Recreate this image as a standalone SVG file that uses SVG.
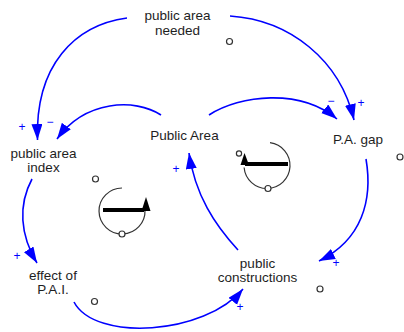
<svg xmlns="http://www.w3.org/2000/svg" width="404" height="332" viewBox="0 0 404 332">
<style>
.lbl{font-family:"Liberation Sans",Arial,sans-serif;font-size:13.5px;fill:#1e1e1e;text-anchor:middle}
.sign{font-family:"Liberation Sans",Arial,sans-serif;font-size:12px;fill:#0000ff;text-anchor:middle}
.link{fill:none;stroke:#0000ff;stroke-width:1.6;marker-end:url(#ah)}
.dot{fill:#fff;stroke:#333;stroke-width:1.2}
.arc{fill:none;stroke:#333;stroke-width:1.2}
.bar{stroke:#000;stroke-width:4}
</style>
<defs>
<marker id="ah" markerUnits="userSpaceOnUse" markerWidth="17" markerHeight="12" refX="16" refY="5.5" orient="auto">
<path d="M0,0 L16,5.5 L0,11 Z" fill="#0000ff"/>
</marker>
</defs>
<rect width="404" height="332" fill="#fff"/>
<g id="connectors">
<path class="link" d="M127,18 C75,25 35,65 37.5,140"/>
<path class="link" d="M161,115 C135,98 85,100 57,139"/>
<path class="link" d="M230,16 C290,20 340,60 354,120"/>
<path class="link" d="M209,115 C240,95 300,88 337,119"/>
<path class="link" d="M366,159 C373,200 362,240 319,261"/>
<path class="link" d="M238,250 C215,225 195,195 189,153"/>
<path class="link" d="M32,179 C18,205 20,235 37,263"/>
<path class="link" d="M74,302 C95,342 205,335 243,289"/>
</g>
<g id="signs">
<text class="sign" x="22" y="131">+</text>
<text class="sign" x="50" y="126">−</text>
<text class="sign" x="331" y="105">−</text>
<text class="sign" x="361" y="107">+</text>
<text class="sign" x="176" y="173">+</text>
<text class="sign" x="17" y="260">+</text>
<text class="sign" x="336" y="267">+</text>
<text class="sign" x="240" y="311">+</text>
</g>
<g id="public_area_needed">
<text class="lbl" x="177.5" y="20">public area</text>
<text class="lbl" x="177.5" y="34.5">needed</text>
<circle class="dot" cx="229.5" cy="41.5" r="3"/>
</g>
<g id="public_area">
<text class="lbl" x="184.5" y="140">Public Area</text>
</g>
<g id="pa_gap">
<text class="lbl" x="358" y="144">P.A. gap</text>
<circle class="dot" cx="400" cy="157" r="3"/>
</g>
<g id="public_area_index">
<text class="lbl" x="43.5" y="157.5">public area</text>
<text class="lbl" x="43.5" y="172">index</text>
<circle class="dot" cx="95.5" cy="179" r="3"/>
</g>
<g id="effect_of_pai">
<text class="lbl" x="53" y="279.5">effect of</text>
<text class="lbl" x="53" y="294">P.A.I.</text>
<circle class="dot" cx="94.5" cy="301.5" r="3"/>
</g>
<g id="public_constructions">
<text class="lbl" x="257.5" y="267.5">public</text>
<text class="lbl" x="257.5" y="282">constructions</text>
<circle class="dot" cx="320" cy="289" r="3"/>
</g>
<g id="loop_left">
<path class="arc" d="M122,188 A23,23 0 1 0 145,210"/>
<line class="bar" x1="103" y1="210" x2="144" y2="210"/>
<path d="M146,197 L150.5,211 L141.5,211 Z" fill="#000"/>
<circle class="dot" cx="122" cy="234" r="3"/>
</g>
<g id="loop_right">
<path class="arc" d="M270,142.7 A23,23 0 1 1 244.1,167.5"/>
<line class="bar" x1="245" y1="164" x2="288" y2="164"/>
<path d="M244.5,153 L249,165 L240.5,165 Z" fill="#000"/>
<circle class="dot" cx="268" cy="188.5" r="3"/>
<circle class="dot" cx="239" cy="153.5" r="2.6"/>
</g>
</svg>
